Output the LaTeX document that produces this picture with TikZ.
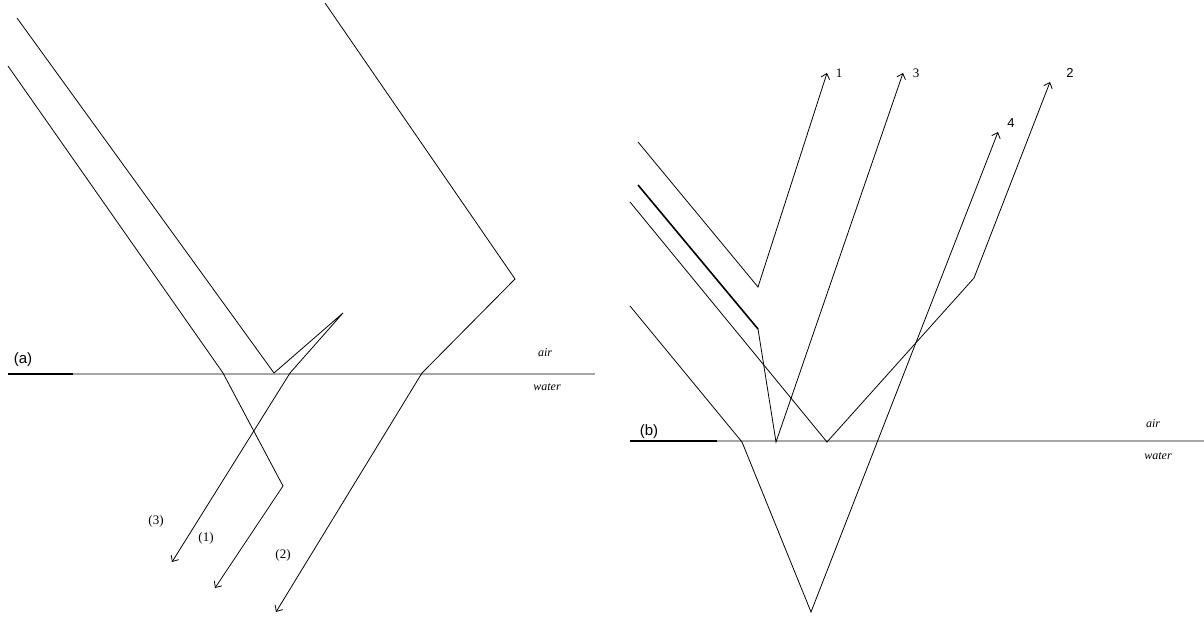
\documentclass[tikz,border=0pt]{standalone}
\usepackage{fontspec}
\setmainfont{Liberation Serif}
\newfontfamily\arialf{Liberation Sans}
\usetikzlibrary{arrows.meta}
\begin{document}
\begin{tikzpicture}[x=1pt,y=-1pt,
  ray/.style={line width=0.8pt,black},
  thickray/.style={line width=1.6pt,black},
  arr/.style={ray,-{Straight Barb[length=5pt,width=9pt,line width=0.8pt]}},
  surf/.style={line width=1.3pt,gray!70},
  surfk/.style={line width=1.3pt,black},
  lbl/.style={font=\fontsize{13}{14}\selectfont,inner sep=0pt},
  slbl/.style={font=\arialf\fontsize{13}{14}\selectfont,inner sep=0pt},
  med/.style={font=\itshape\fontsize{12}{14}\selectfont,inner sep=0pt}]
\useasboundingbox (0,0) rectangle (1204,617);
% ---------- panel (a) ----------
\coordinate (aL) at (8,374);
\coordinate (aK) at (73,374);
\coordinate (aR) at (595,374);
\draw[surf] (aK) -- (aR);
\draw[surfk] (aL) -- (aK);
\node[slbl,font=\arialf\fontsize{15}{16}\selectfont] (alab) at (23,360) {(a)};
\node[med] (aair) at (545,353) {air};
\node[med] (awater) at (547,387) {water};
% ray A
\coordinate (A0) at (8,66);
\coordinate (A1) at (223,373);
\coordinate (A2) at (283,486);
\coordinate (A3) at (215,588);
\draw[arr] (A0) -- (A1) -- (A2) -- (A3);
% ray B
\coordinate (B0) at (17,18);
\coordinate (B1) at (274,373);
\coordinate (B2) at (343,313);
\coordinate (B3) at (290,373);
\coordinate (B4) at (172,562);
\draw[arr] (B0) -- (B1) -- (B2) -- (B3) -- (B4);
% ray C
\coordinate (C0) at (325,3);
\coordinate (C1) at (515,279);
\coordinate (C2) at (422,373);
\coordinate (C3) at (276,612);
\draw[arr] (C0) -- (C1) -- (C2) -- (C3);
\node[lbl] (l3) at (156,521) {(3)};
\node[lbl] (l1) at (206,538) {(1)};
\node[lbl] (l2) at (283,555) {(2)};
% ---------- panel (b) ----------
\coordinate (bL) at (630,441);
\coordinate (bK) at (717,441);
\coordinate (bR) at (1204,441);
\draw[surf] (bK) -- (bR);
\draw[surfk] (bL) -- (bK);
\node[slbl,font=\arialf\fontsize{15}{16}\selectfont] (blab) at (649,432) {(b)};
\node[med] (bair) at (1153,424) {air};
\node[med] (bwater) at (1158,456) {water};
% ray 1
\coordinate (P0) at (638,142);
\coordinate (P1) at (758,287);
\coordinate (P2) at (827,73);
\draw[arr] (P0) -- (P1) -- (P2);
\node[lbl] (n1) at (839,73) {1};
% ray 3 (thick start)
\coordinate (Q0) at (638,185);
\coordinate (Q1) at (758,329);
\coordinate (Q2) at (776,442);
\coordinate (Q3) at (903,73);
\draw[thickray] (Q0) -- (Q1);
\draw[arr] (Q1) -- (Q2) -- (Q3);
\node[lbl] (n3) at (916,73) {3};
% ray 2
\coordinate (R0) at (630,202);
\coordinate (R1) at (827,442);
\coordinate (R2) at (974,278);
\coordinate (R3) at (1050,82);
\draw[arr] (R0) -- (R1) -- (R2) -- (R3);
\node[slbl] (n2) at (1070,73) {2};
% ray 4
\coordinate (S0) at (630,306);
\coordinate (S1) at (742,442);
\coordinate (S2) at (811,612);
\coordinate (S3) at (998,132);
\draw[arr] (S0) -- (S1) -- (S2) -- (S3);
\node[slbl] (n4) at (1011,123) {4};
\end{tikzpicture}
\end{document}
